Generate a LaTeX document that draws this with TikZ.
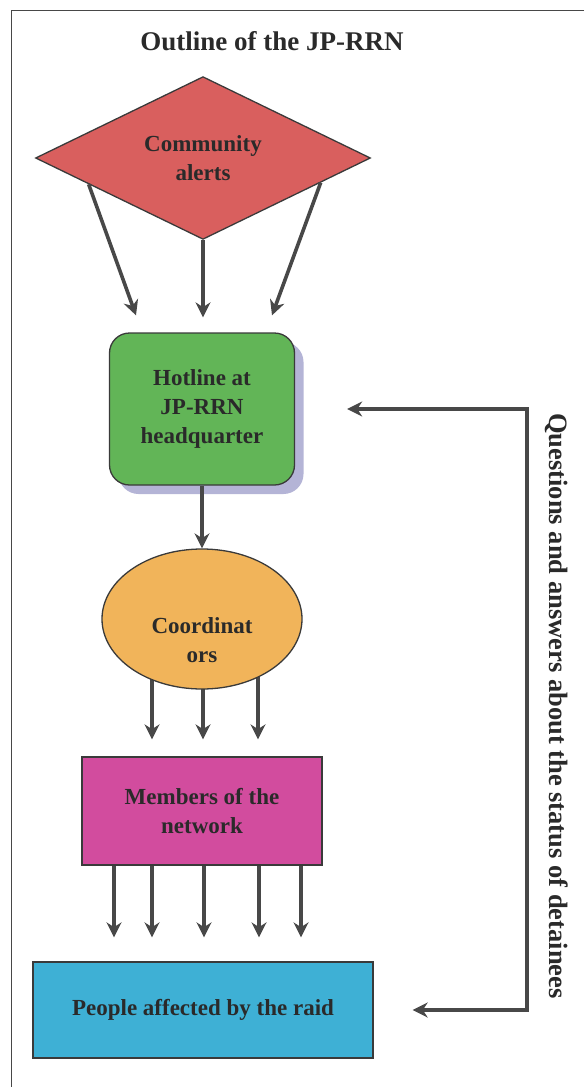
\documentclass[tikz,border=0pt]{standalone}
\usepackage{fontspec}
\setmainfont{Liberation Serif}
\usetikzlibrary{arrows.meta,positioning,calc,shapes.geometric,shadows,backgrounds}
\definecolor{alert}{HTML}{D95F5E}
\definecolor{hot}{HTML}{62B557}
\definecolor{coord}{HTML}{F1B45A}
\definecolor{memb}{HTML}{D24C9E}
\definecolor{ppl}{HTML}{3EB0D5}
\definecolor{wire}{HTML}{484848}
\definecolor{shade}{HTML}{B4B4D6}
\definecolor{ink}{HTML}{2A2A2A}

\begin{document}
\begin{tikzpicture}[x=1pt,y=-1pt,font=\bfseries\fontsize{23}{29}\selectfont,text=ink,
  box/.style={draw=wire!80!black, line width=1.3pt, align=center, inner sep=0pt},
  flow/.style={wire, line width=3.6pt, -{Stealth[length=15pt,width=15pt]}}]
  \useasboundingbox (0,0) rectangle (584,1087);
  \draw[wire, line width=1pt] (584,10) -- (11,10) -- (11,1087);
  \node (title) at (272,41) {\fontsize{27}{32}\selectfont Outline of the JP-RRN};
  % boxes
  \node[box, diamond, fill=alert, minimum width=335pt, minimum height=155pt] (alerts) at (203,158) {Community\\alerts};
  \node[box, rounded corners=20pt, fill=hot, minimum width=185pt, minimum height=152pt,
    drop shadow={shadow xshift=9pt, shadow yshift=-9pt, fill=shade, opacity=1}] (hotline) at (202,409) {Hotline at\\JP-RRN\\headquarter};
  \node[box, ellipse, fill=coord, minimum width=200pt, minimum height=140pt,
    label={[name=coordtext, align=center, yshift=-21pt]center:Coordinat\\ors}] (coords) at (202,619) {};
  \node[box, fill=memb, minimum width=240pt, minimum height=108pt] (members) at (202,811) {Members of the\\network};
  \node[box, fill=ppl, minimum width=340pt, minimum height=96pt] (people) at (203,1010) {People affected by the raid};
  % arrows
  \draw[flow] ($(alerts.west)!0.32!(alerts.south)$) -- ([xshift=-66pt,yshift=17pt]hotline.north);
  \draw[flow] (alerts.south) -- ([yshift=15pt]alerts.south |- hotline.north);
  \draw[flow] ($(alerts.east)!0.3!(alerts.south)$) -- ([xshift=70pt,yshift=17pt]hotline.north);
  \draw[flow] (hotline.south) -- (coords.north);
  \begin{scope}[on background layer]
    \foreach \dx in {-50,1,56}
      \draw[flow] ([xshift=\dx pt]coords.center) -- ([xshift=\dx pt,yshift=17pt]members.north);
  \end{scope}
  \foreach \dx in {-88,-50,2,57,99}
    \draw[flow] ([xshift=\dx pt]members.south) -- ([xshift=\dx pt,yshift=24pt]members.south |- people.north);
  % feedback
  \coordinate (rail) at (527,700);
  \draw[flow, {Stealth[length=15pt,width=15pt]}-{Stealth[length=15pt,width=15pt]}]
    ([xshift=52pt]hotline.east) -| (rail) |- ([xshift=39pt]people.east);
  \node[rotate=-90, font=\bfseries\fontsize{26.5}{30}\selectfont] (qa) at (557,706) {Questions and answers about the status of detainees};
\end{tikzpicture}
\end{document}
